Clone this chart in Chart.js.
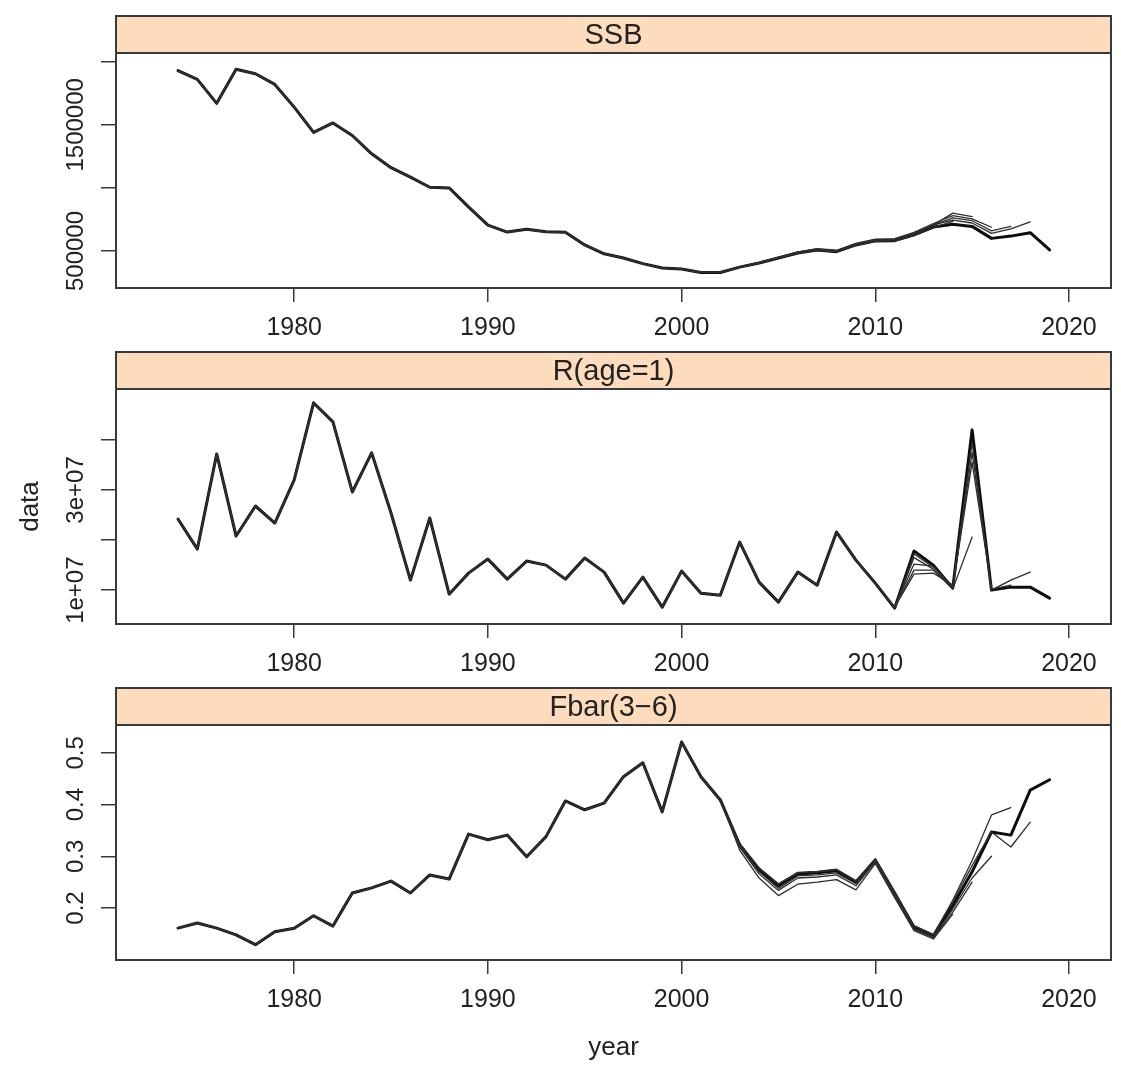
<!DOCTYPE html>
<html>
<head>
<meta charset="utf-8">
<script src="https://cdn.jsdelivr.net/npm/chart.js@4.4.1/dist/chart.umd.min.js"></script>
<style>
    body { margin: 0; background: #fff; }
    #wrap { position: relative; width: 1121px; height: 1066px; }
    canvas { position: absolute; left: 0; }
</style>
</head>
<body>
<div id="wrap">
    <canvas id="ssbChart" width="1121" height="352" style="top:0px"></canvas>
    <canvas id="recChart" width="1121" height="352" style="top:336px"></canvas>
    <canvas id="fbarChart" width="1121" height="394" style="top:672px"></canvas>
</div>
<script>
// years shared by every run, then the retrospective tail years
const baseYears = [1974, 1975, 1976, 1977, 1978, 1979, 1980, 1981, 1982, 1983, 1984, 1985, 1986, 1987, 1988,
    1989, 1990, 1991, 1992, 1993, 1994, 1995, 1996, 1997, 1998, 1999, 2000, 2001, 2002];
const tailYears = [2003, 2004, 2005, 2006, 2007, 2008, 2009, 2010, 2011, 2012, 2013, 2014, 2015, 2016, 2017, 2018, 2019];
const runNames = ["2014", "2015", "2016", "2017", "2018", "2019"];

const xTicks = [1980, 1990, 2000, 2010, 2020];

// SSB
const ssbBase = [1930000, 1860000, 1670000, 1940000, 1905000, 1820000, 1640000, 1440000, 1515000, 1415000,
    1270000, 1160000, 1085000, 1005000, 1000000, 850000, 705000, 650000, 672000, 652000, 648000, 548000,
    478000, 445000, 400000, 365000, 358000, 330000, 330000];
const ssb2014 = [371000, 403000, 443000, 481000, 505000, 492000, 545000, 577000, 578000, 622000, 685000, 735000];
const ssb2015 = [373000, 406000, 447000, 487000, 511000, 499000, 551000, 584000, 588000, 635000, 705000, 800000, 772000];
const ssb2016 = [375000, 410000, 452000, 493000, 518000, 506000, 560000, 594000, 598000, 648000, 718000, 780000, 755000, 688000];
const ssb2017 = [373000, 407000, 448000, 488000, 512000, 500000, 553000, 586000, 590000, 638000, 705000, 762000, 740000, 660000, 695000];
const ssb2018 = [374000, 408000, 450000, 490000, 515000, 502000, 556000, 590000, 592000, 640000, 708000, 745000, 722000, 640000, 676000, 730000];
const ssb2019 = [372000, 405000, 445000, 484000, 508000, 495000, 548000, 580000, 582000, 628000, 690000, 712000, 695000, 600000, 618000, 645000, 508000];
const ssbTicks = [500000, 1000000, 1500000, 2000000];
const ssbTickLabels = ["500000", "", "1500000", ""];

// recruitment age 1
const recBase = [2.42e7, 1.82e7, 3.72e7, 2.08e7, 2.68e7, 2.34e7, 3.2e7, 4.74e7, 4.36e7, 2.96e7, 3.74e7, 2.54e7,
    1.2e7, 2.44e7, 0.92e7, 1.34e7, 1.62e7, 1.22e7, 1.58e7, 1.5e7, 1.22e7, 1.64e7, 1.36e7, 0.74e7, 1.26e7,
    0.66e7, 1.38e7, 0.94e7, 0.9e7];
const rec2014 = [1.96e7, 1.16e7, 0.76e7, 1.36e7, 1.10e7, 2.16e7, 1.60e7, 1.14e7, 0.66e7, 1.32e7, 1.34e7, 1.10e7];
const rec2015 = [1.96e7, 1.16e7, 0.76e7, 1.36e7, 1.10e7, 2.16e7, 1.60e7, 1.14e7, 0.66e7, 1.40e7, 1.40e7, 1.02e7, 2.06e7];
const rec2016 = [1.96e7, 1.16e7, 0.76e7, 1.36e7, 1.10e7, 2.16e7, 1.60e7, 1.14e7, 0.65e7, 1.52e7, 1.48e7, 1.06e7, 3.55e7, 1.04e7];
const rec2017 = [1.96e7, 1.16e7, 0.76e7, 1.36e7, 1.10e7, 2.16e7, 1.60e7, 1.14e7, 0.65e7, 1.65e7, 1.42e7, 1.03e7, 3.75e7, 1.02e7, 1.10e7];
const rec2018 = [1.96e7, 1.16e7, 0.76e7, 1.36e7, 1.10e7, 2.16e7, 1.60e7, 1.14e7, 0.64e7, 1.72e7, 1.46e7, 1.05e7, 3.95e7, 1.00e7, 1.20e7, 1.36e7];
const rec2019 = [1.96e7, 1.16e7, 0.76e7, 1.36e7, 1.10e7, 2.16e7, 1.60e7, 1.14e7, 0.64e7, 1.78e7, 1.50e7, 1.04e7, 4.20e7, 1.00e7, 1.06e7, 1.06e7, 0.84e7];
const recTicks = [1e7, 2e7, 3e7, 4e7];
const recTickLabels = ["1e+07", "", "3e+07", ""];

// Fbar 3-6
const fbarBase = [0.161, 0.171, 0.161, 0.148, 0.129, 0.154, 0.161, 0.185, 0.165, 0.229, 0.239, 0.252, 0.229,
    0.264, 0.256, 0.343, 0.332, 0.341, 0.299, 0.338, 0.407, 0.390, 0.403, 0.454, 0.481, 0.386, 0.521, 0.454, 0.409];
const fbar2014 = [0.312, 0.258, 0.224, 0.246, 0.250, 0.255, 0.235, 0.286, 0.220, 0.156, 0.140, 0.188];
const fbar2015 = [0.318, 0.266, 0.234, 0.258, 0.260, 0.264, 0.243, 0.289, 0.224, 0.158, 0.142, 0.192, 0.250];
const fbar2016 = [0.320, 0.270, 0.238, 0.262, 0.264, 0.268, 0.247, 0.291, 0.226, 0.160, 0.144, 0.198, 0.258, 0.300];
const fbar2017 = [0.324, 0.277, 0.246, 0.268, 0.270, 0.274, 0.252, 0.294, 0.230, 0.165, 0.148, 0.215, 0.292, 0.380, 0.394];
const fbar2018 = [0.325, 0.278, 0.247, 0.269, 0.271, 0.275, 0.253, 0.295, 0.231, 0.166, 0.149, 0.212, 0.282, 0.347, 0.318, 0.366];
const fbar2019 = [0.322, 0.274, 0.243, 0.266, 0.268, 0.272, 0.250, 0.293, 0.229, 0.163, 0.146, 0.205, 0.270, 0.347, 0.341, 0.428, 0.448];
const fbarTicks = [0.2, 0.3, 0.4, 0.5];
const fbarTickLabels = ["0.2", "0.3", "0.4", "0.5"];

const FONT = "'Liberation Sans', Arial, sans-serif";
const INK = "#222";
const FRAME = "#3a3a3a";

function buildRuns(base, tails) {
    return tails.map((tail, k) => {
        const pts = baseYears.map((yr, i) => ({ x: yr, y: base[i] }))
            .concat(tail.map((v, i) => ({ x: tailYears[i], y: v })));
        const isFull = k === tails.length - 1;
        return {
            label: runNames[k],
            data: pts,
            borderColor: isFull ? "#0d0d0d" : "#2e2e2e",
            borderWidth: isFull ? 3 : 1.3,
            pointRadius: 0,
            fill: false
        };
    });
}

// strip on top, box round the panel, rotated y labels
const panelPlugin = {
    id: "panel",
    afterDraw(chart, args, opts) {
        const ctx = chart.ctx;
        const a = chart.chartArea;
        ctx.save();
        ctx.fillStyle = "#fcdcbd";
        ctx.fillRect(a.left, 16, a.right - a.left, a.top - 16);
        ctx.strokeStyle = FRAME;
        ctx.lineWidth = 2;
        ctx.strokeRect(a.left, 16, a.right - a.left, a.top - 16);
        ctx.strokeRect(a.left, a.top, a.right - a.left, a.bottom - a.top);
        ctx.fillStyle = INK;
        ctx.font = "29px " + FONT;
        ctx.textAlign = "center";
        ctx.textBaseline = "middle";
        ctx.fillText(opts.strip, (a.left + a.right) / 2, (16 + a.top) / 2 + 1);

        const ys = chart.scales.y;
        ctx.font = "24px " + FONT;
        opts.ticks.forEach((v, i) => {
            if (!opts.labels[i]) return;
            ctx.save();
            ctx.translate(76, ys.getPixelForValue(v));
            ctx.rotate(-Math.PI / 2);
            ctx.fillText(opts.labels[i], 0, 0);
            ctx.restore();
        });
        ctx.restore();
    }
};

function makePanel(id, p) {
    return new Chart(document.getElementById(id), {
        type: "line",
        data: { datasets: buildRuns(p.base, p.tails) },
        options: {
            responsive: false,
            animation: false,
            layout: { padding: { top: 53, right: 10, left: 0, bottom: 0 } },
            plugins: {
                legend: { display: false },
                tooltip: { enabled: false },
                panel: { strip: p.strip, ticks: p.ticks, labels: p.labels }
            },
            elements: { line: { tension: 0, borderJoinStyle: "round", borderCapStyle: "round" } },
            scales: {
                x: {
                    type: "linear",
                    min: 1970.8,
                    max: 2022.17,
                    afterBuildTicks: s => { s.ticks = xTicks.map(v => ({ value: v })); },
                    afterFit: s => { s.height = p.xHeight; },
                    border: { display: false },
                    grid: { drawOnChartArea: false, drawTicks: true, tickLength: 14, color: FRAME, lineWidth: 1.5 },
                    ticks: {
                        font: { family: FONT, size: 25 },
                        color: INK,
                        padding: 11,
                        maxRotation: 0,
                        autoSkip: false,
                        callback: v => String(v)
                    },
                    title: p.xTitle ? {
                        display: true,
                        text: p.xTitle,
                        font: { family: FONT, size: 26 },
                        color: INK,
                        padding: { top: 0, bottom: 3 }
                    } : { display: false }
                },
                y: {
                    type: "linear",
                    min: p.yMin,
                    max: p.yMax,
                    afterBuildTicks: s => { s.ticks = p.ticks.map(v => ({ value: v })); },
                    afterFit: s => { s.width = 116; },
                    border: { display: false },
                    grid: { drawOnChartArea: false, drawTicks: true, tickLength: 15, color: FRAME, lineWidth: 1.5 },
                    ticks: { display: false },
                    title: p.yTitle ? {
                        display: true,
                        text: p.yTitle,
                        font: { family: FONT, size: 26 },
                        color: INK,
                        padding: { top: 15, bottom: 0 }
                    } : { display: false }
                }
            }
        },
        plugins: [panelPlugin]
    });
}

makePanel("ssbChart", {
    strip: "SSB",
    base: ssbBase,
    tails: [ssb2014, ssb2015, ssb2016, ssb2017, ssb2018, ssb2019],
    yMin: 206800, yMax: 2069000,
    ticks: ssbTicks, labels: ssbTickLabels,
    xHeight: 64
});

makePanel("recChart", {
    strip: "R(age=1)",
    base: recBase,
    tails: [rec2014, rec2015, rec2016, rec2017, rec2018, rec2019],
    yMin: 0.324e7, yMax: 5.016e7,
    ticks: recTicks, labels: recTickLabels,
    yTitle: "data",
    xHeight: 64
});

makePanel("fbarChart", {
    strip: "Fbar(3\u22126)",
    base: fbarBase,
    tails: [fbar2014, fbar2015, fbar2016, fbar2017, fbar2018, fbar2019],
    yMin: 0.0994, yMax: 0.554,
    ticks: fbarTicks, labels: fbarTickLabels,
    xTitle: "year",
    xHeight: 106
});
</script>
</body>
</html>
